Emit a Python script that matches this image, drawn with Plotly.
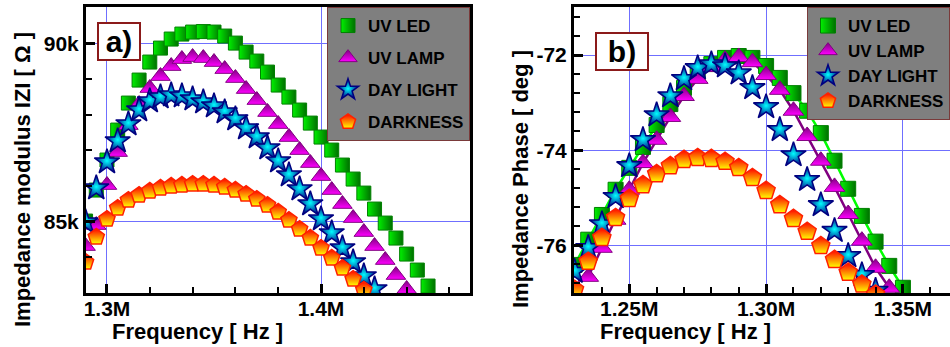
import plotly.graph_objects as go

# ---------------- data: panel a) impedance modulus ----------------
freq_a_led = [1.290, 1.295, 1.300, 1.305, 1.310, 1.315, 1.320, 1.325, 1.330, 1.335, 1.340,
              1.345, 1.350, 1.355, 1.360, 1.365, 1.370, 1.375, 1.380, 1.385, 1.390, 1.395,
              1.400, 1.405, 1.410, 1.415, 1.420, 1.425, 1.430, 1.435, 1.440, 1.445, 1.450]
z_uv_led = [85017, 85887, 86728, 87569, 88326, 88971, 89476, 89868, 90121, 90261, 90317,
            90331, 90317, 90205, 90008, 89756, 89504, 89195, 88831, 88494, 88130, 87765,
            87373, 87008, 86588, 86195, 85802, 85354, 84961, 84541, 84092, 83643, 83195]

freq_a_lamp = [1.290, 1.295, 1.300, 1.305, 1.310, 1.315, 1.320, 1.325, 1.330, 1.335, 1.340,
               1.345, 1.350, 1.355, 1.360, 1.365, 1.370, 1.375, 1.380, 1.385, 1.390, 1.395,
               1.400, 1.405, 1.410, 1.415, 1.420, 1.425, 1.430, 1.435, 1.440]
z_uv_lamp = [84316, 84905, 86027, 86952, 87709, 88298, 88747, 89083, 89363, 89560, 89616,
             89588, 89476, 89279, 89027, 88719, 88410, 88074, 87737, 87373, 87008, 86644,
             86279, 85887, 85494, 85101, 84709, 84316, 83924, 83503, 83111]

freq_a_day = [1.290, 1.295, 1.300, 1.305, 1.310, 1.315, 1.320, 1.325, 1.330, 1.335, 1.340,
              1.345, 1.350, 1.355, 1.360, 1.365, 1.370, 1.375, 1.380, 1.385, 1.390, 1.395,
              1.400, 1.405, 1.410, 1.415, 1.420, 1.425]
z_day_light = [84989, 85943, 86672, 87261, 87737, 88130, 88382, 88494, 88550, 88522, 88438,
               88354, 88242, 88074, 87877, 87625, 87373, 87064, 86700, 86307, 85915, 85494,
               85073, 84681, 84260, 83868, 83475, 83111]

freq_a_dark = [1.290, 1.295, 1.300, 1.305, 1.310, 1.315, 1.320, 1.325, 1.330, 1.335, 1.340,
               1.345, 1.350, 1.355, 1.360, 1.365, 1.370, 1.375, 1.380, 1.385, 1.390, 1.395,
               1.400, 1.405, 1.410, 1.415, 1.420]
z_darkness = [83868, 84569, 85073, 85382, 85606, 85746, 85859, 85943, 85999, 86027, 86055,
              86055, 86027, 85971, 85887, 85774, 85634, 85466, 85270, 85045, 84793, 84541,
              84260, 83980, 83699, 83391, 83083]

# ---------------- data: panel b) impedance phase ----------------
freq_b_led = [1.230, 1.235, 1.240, 1.245, 1.250, 1.255, 1.260, 1.265, 1.270, 1.275, 1.280,
              1.285, 1.290, 1.295, 1.300, 1.305, 1.310, 1.315, 1.320, 1.325, 1.330, 1.335,
              1.340, 1.345, 1.350]
ph_uv_led = [-76.41, -75.88, -75.36, -74.83, -74.37, -73.93, -73.47, -73.03, -72.69, -72.40,
             -72.19, -72.06, -72.02, -72.06, -72.23, -72.48, -72.80, -73.17, -73.64, -74.22,
             -74.81, -75.38, -75.92, -76.43, -76.89]

freq_b_lamp = [1.235, 1.240, 1.245, 1.250, 1.255, 1.260, 1.265, 1.270, 1.275, 1.280, 1.285,
               1.290, 1.295, 1.300, 1.305, 1.310, 1.315, 1.320, 1.325, 1.330, 1.335, 1.340,
               1.345]
ph_uv_lamp = [-76.66, -76.05, -75.46, -74.83, -74.27, -73.78, -73.30, -72.86, -72.50, -72.25,
              -72.10, -72.04, -72.15, -72.42, -72.73, -73.17, -73.70, -74.22, -74.77, -75.34,
              -75.90, -76.47, -76.89]

freq_b_day = [1.230, 1.235, 1.240, 1.245, 1.250, 1.255, 1.260, 1.265, 1.270, 1.275, 1.280,
              1.285, 1.290, 1.295, 1.300, 1.305, 1.310, 1.315, 1.320, 1.325, 1.330, 1.335,
              1.340]
ph_day_light = [-76.55, -76.05, -75.55, -74.98, -74.33, -73.78, -73.26, -72.86, -72.50, -72.27,
                -72.19, -72.23, -72.38, -72.69, -73.09, -73.57, -74.10, -74.62, -75.15, -75.69,
                -76.22, -76.62, -76.95]

freq_b_dark = [1.230, 1.235, 1.240, 1.245, 1.250, 1.255, 1.260, 1.265, 1.270, 1.275, 1.280,
               1.285, 1.290, 1.295, 1.300, 1.305, 1.310, 1.315, 1.320, 1.325, 1.330, 1.335,
               1.340]
ph_darkness = [-76.93, -76.34, -75.84, -75.42, -75.02, -74.73, -74.50, -74.33, -74.20, -74.16,
               -74.18, -74.24, -74.37, -74.58, -74.85, -75.15, -75.44, -75.71, -76.01, -76.30,
               -76.57, -76.82, -77.03]

series_names = ["UV LED", "UV LAMP", "DAY LIGHT", "DARKNESS"]

# tick labels
xa_tickvals = [1.3, 1.4]
xa_ticktext = ["1.3M", "1.4M"]
ya_tickvals = [85000, 90000]
ya_ticktext = ["85k", "90k"]
xb_tickvals = [1.25, 1.30, 1.35]
xb_ticktext = ["1.25M", "1.30M", "1.35M"]
yb_tickvals = [-76, -74, -72]
yb_ticktext = ["-76", "-74", "-72"]

# ---------------- styles ----------------
FONT = "Liberation Sans, Arial, sans-serif"
W, H = 950, 347
ML, MR, MT, MB = 86, 0, 7, 54          # plot area: x 86..950, y 7..293
PW, PH = W - ML - MR, H - MT - MB

styles = [
    dict(symbol="square", color="#00f000", grad=dict(type="horizontal", color="#007000"),
         line=dict(color="#008000", width=1), linecolor="#00ff00"),
    dict(symbol="triangle-up", color="#800080", grad=dict(type="vertical", color="#ff00ff"),
         line=dict(color="#800080", width=1), linecolor="#800080"),
    dict(symbol="star", color="#000080", grad=dict(type="radial", color="#00ffff"),
         line=dict(color="#000080", width=1.5), linecolor="#000080"),
    dict(symbol="pentagon", color="#ff0000", grad=dict(type="vertical", color="#ffff00"),
         line=dict(color="#ff2000", width=1.5), linecolor="#ff0000"),
]
sizes_a = [14, 17, 19, 17]
sizes_b = [15, 18, 19, 19]

fig = go.Figure()

panel_a = [(freq_a_led, z_uv_led), (freq_a_lamp, z_uv_lamp),
           (freq_a_day, z_day_light), (freq_a_dark, z_darkness)]
panel_b = [(freq_b_led, ph_uv_led), (freq_b_lamp, ph_uv_lamp),
           (freq_b_day, ph_day_light), (freq_b_dark, ph_darkness)]

for i, (xs, ys) in enumerate(panel_a):
    s = styles[i]
    fig.add_trace(go.Scatter(
        x=xs, y=ys, mode="markers", name=series_names[i],
        xaxis="x", yaxis="y", legend="legend", legendgroup=f"a{i}",
        marker=dict(symbol=s["symbol"], size=sizes_a[i], color=s["color"],
                    gradient=s["grad"], line=s["line"]),
    ))

# connecting lines for the two upper series of panel b (kept out of the legend)
for i in (0, 1):
    xs, ys = panel_b[i]
    fig.add_trace(go.Scatter(
        x=xs, y=ys, mode="lines", xaxis="x2", yaxis="y2", showlegend=False,
        line=dict(color=styles[i]["linecolor"], width=2.5), hoverinfo="skip",
    ))

for i, (xs, ys) in enumerate(panel_b):
    s = styles[i]
    fig.add_trace(go.Scatter(
        x=xs, y=ys, mode="markers", name=series_names[i],
        xaxis="x2", yaxis="y2", legend="legend2", legendgroup=f"b{i}",
        marker=dict(symbol=s["symbol"], size=sizes_b[i], color=s["color"],
                    gradient=s["grad"], line=s["line"]),
    ))

# pixel geometry -> paper fractions (paper = plot area inside margins)
def px(x):
    return (x - ML) / PW

def py(y):
    return (H - MB - y) / PH

ax_common = dict(
    showline=True, linecolor="black", linewidth=3, mirror=True,
    ticks="inside", ticklen=9, tickwidth=3, tickcolor="black",
    showgrid=True, gridcolor="#6f6fff", gridwidth=1, zeroline=False,
    tickmode="array", automargin=False,
    tickfont=dict(family=FONT, size=21, color="black", weight="bold"),
)
xminor = dict(ticks="inside", ticklen=6, tickwidth=2, tickcolor="black",
              tickmode="linear", showgrid=False)

fig.update_layout(
    width=W, height=H,
    margin=dict(l=ML, r=MR, t=MT, b=MB, autoexpand=False),
    paper_bgcolor="white", plot_bgcolor="white",
    xaxis=dict(ax_common, domain=[px(86), px(470)], range=[1.2902, 1.4696],
               tickvals=xa_tickvals, ticktext=xa_ticktext, ticklabelstandoff=-5,
               minor=dict(xminor, tick0=1.3, dtick=0.02)),
    yaxis=dict(ax_common, domain=[0, 1], range=[83000, 91020],
               tickvals=ya_tickvals, ticktext=ya_ticktext,
               minor=dict(xminor, tick0=85000, dtick=1000)),
    xaxis2=dict(ax_common, domain=[px(574), 1.0], range=[1.2298, 1.3672], anchor="y2",
                tickvals=xb_tickvals, ticktext=xb_ticktext, ticklabelstandoff=-5,
                minor=dict(xminor, tick0=1.25, dtick=0.01)),
    yaxis2=dict(ax_common, domain=[0, 1], range=[-77.0, -70.99], anchor="x2",
                tickvals=yb_tickvals, ticktext=yb_ticktext,
                minor=dict(xminor, tick0=-72, dtick=0.4)),
    legend=dict(x=px(470), xanchor="right", y=1.0, yanchor="top",
                bgcolor="#7f7f7f", bordercolor="#7a3a3a", borderwidth=1,
                font=dict(family=FONT, size=17, color="black", weight="bold"),
                tracegroupgap=7, itemclick=False),
    legend2=dict(x=1.0, xanchor="right", y=1.0, yanchor="top",
                 bgcolor="#7f7f7f", bordercolor="#7a3a3a", borderwidth=1,
                 font=dict(family=FONT, size=17, color="black", weight="bold"),
                 tracegroupgap=0, itemclick=False),
    showlegend=True,
)

title_font = dict(family=FONT, size=22, color="black", weight="bold")
label_font = dict(family=FONT, size=30, color="black", weight="bold")
centered = dict(xref="paper", yref="paper", xanchor="center", yanchor="middle", showarrow=False)

fig.add_annotation(text="Frequency [ Hz ]", x=px(197), y=py(331), font=title_font, **centered)
fig.add_annotation(text="Frequency [ Hz ]", x=px(685), y=py(331), font=title_font, **centered)
fig.add_annotation(text="Impedance modulus IZI [ Ω ]", x=px(22), y=py(180),
                   textangle=-90, font=title_font, **centered)
fig.add_annotation(text="Impedance Phase [ deg ]", x=px(520), y=py(179),
                   textangle=-90, font=title_font, **centered)

fig.add_annotation(text="a)", x=px(119), y=py(41.5), font=label_font, bgcolor="white",
                   bordercolor="#8b1a1a", borderwidth=2, borderpad=0, width=40, height=35,
                   **centered)
fig.add_annotation(text="b)", x=px(622), y=py(51.5), font=label_font, bgcolor="white",
                   bordercolor="#8b1a1a", borderwidth=2, borderpad=0, width=50, height=35,
                   **centered)

fig.write_html("out.html", post_script="document.body.style.margin='0';",
               config={"displayModeBar": False})
